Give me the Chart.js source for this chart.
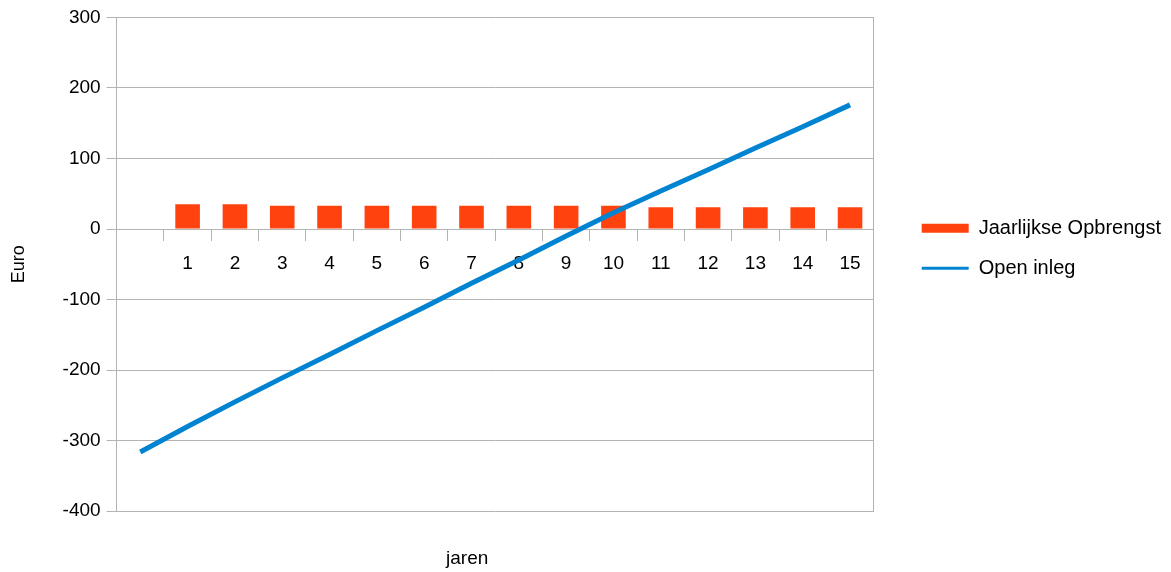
<!DOCTYPE html>
<html>
<head>
<meta charset="utf-8">
<title>Jaarlijkse Opbrengst / Open inleg</title>
<script src="https://cdn.jsdelivr.net/npm/chart.js@4.4.1/dist/chart.umd.min.js"></script>
<style>
  html, body { margin: 0; padding: 0; background: #fff; }
</style>
</head>
<body>
<canvas id="chart" width="1171" height="572"></canvas>
<script>
  // years: first slot is year 0 (start of the line, no bar, no label)
  const jaren = ['', '1', '2', '3', '4', '5', '6', '7', '8', '9', '10', '11', '12', '13', '14', '15'];
  const opbrengst = [null, 35, 35, 33, 33, 33, 33, 33, 33, 33, 33, 31, 31, 31, 31, 31];
  const openInleg = [-316, -280, -245, -211, -178, -144, -111, -77, -44, -10, 23, 54, 84, 115, 145, 176];

  // y axis range
  const yMin = -400;
  const yMax = 300;
  const yStep = 100;

  const grey = '#b3b3b3';
  const font = { family: '"Liberation Sans", Arial, sans-serif', size: 19 };

  Chart.defaults.font.family = font.family;
  Chart.defaults.color = '#000';

  // move legend up a bit and the x title left, like the original layout
  const nudge = {
    id: 'nudge',
    afterLayout(chart) {
      chart.legend.top -= 16;
      chart.legend.bottom -= 16;
      const s = chart.scales.x2;
      s.left -= 28;
      s.right -= 28;
    }
  };

  new Chart(document.getElementById('chart'), {
    type: 'bar',
    data: {
      labels: jaren,
      datasets: [
        {
          type: 'bar',
          label: 'Jaarlijkse Opbrengst',
          data: opbrengst,
          backgroundColor: '#ff420e',
          borderWidth: 0,
          barPercentage: 0.52,
          categoryPercentage: 1,
          pointStyle: 'rect',
          order: 2
        },
        {
          type: 'line',
          label: 'Open inleg',
          data: openInleg,
          borderColor: '#0084d1',
          backgroundColor: '#0084d1',
          borderWidth: 5,
          pointRadius: 0,
          tension: 0,
          pointStyle: 'line',
          order: 1
        }
      ]
    },
    options: {
      responsive: false,
      animation: false,
      layout: { padding: { top: 17, left: 2, right: 0, bottom: 2 } },
      scales: {
        x: {
          position: { y: 0 },
          grid: { offset: true, drawOnChartArea: false, color: grey, tickLength: 11 },
          border: { color: grey },
          ticks: { font: font, padding: 12, maxRotation: 0, autoSkip: false }
        },
        x2: {
          position: 'bottom',
          grid: { display: false },
          border: { display: false },
          ticks: { display: false },
          title: { display: true, text: 'jaren', font: font, padding: { top: 28, bottom: 0 } }
        },
        y: {
          min: yMin,
          max: yMax,
          ticks: { stepSize: yStep, font: font, padding: 6 },
          grid: { color: grey, tickLength: 10 },
          border: { color: grey },
          title: { display: true, text: 'Euro', font: { size: 18 }, padding: { top: 6, bottom: 27 } }
        },
        y2: {
          position: 'right',
          grid: { display: false },
          border: { color: grey },
          ticks: { display: false },
          afterFit(scale) { scale.width = 28; }
        }
      },
      plugins: {
        legend: {
          position: 'right',
          fullSize: false,
          maxWidth: 300,
          labels: {
            usePointStyle: true,
            pointStyleWidth: 47,
            boxHeight: 9,
            padding: 20,
            font: { size: 20 },
            color: '#000',
            sort: (a, b) => a.datasetIndex - b.datasetIndex,
            generateLabels(chart) {
              const items = Chart.defaults.plugins.legend.labels.generateLabels(chart);
              items.forEach(item => {
                item.lineWidth = item.datasetIndex === 1 ? 3 : 0;
              });
              return items;
            }
          }
        },
        tooltip: { enabled: false }
      }
    },
    plugins: [nudge]
  });
</script>
</body>
</html>
